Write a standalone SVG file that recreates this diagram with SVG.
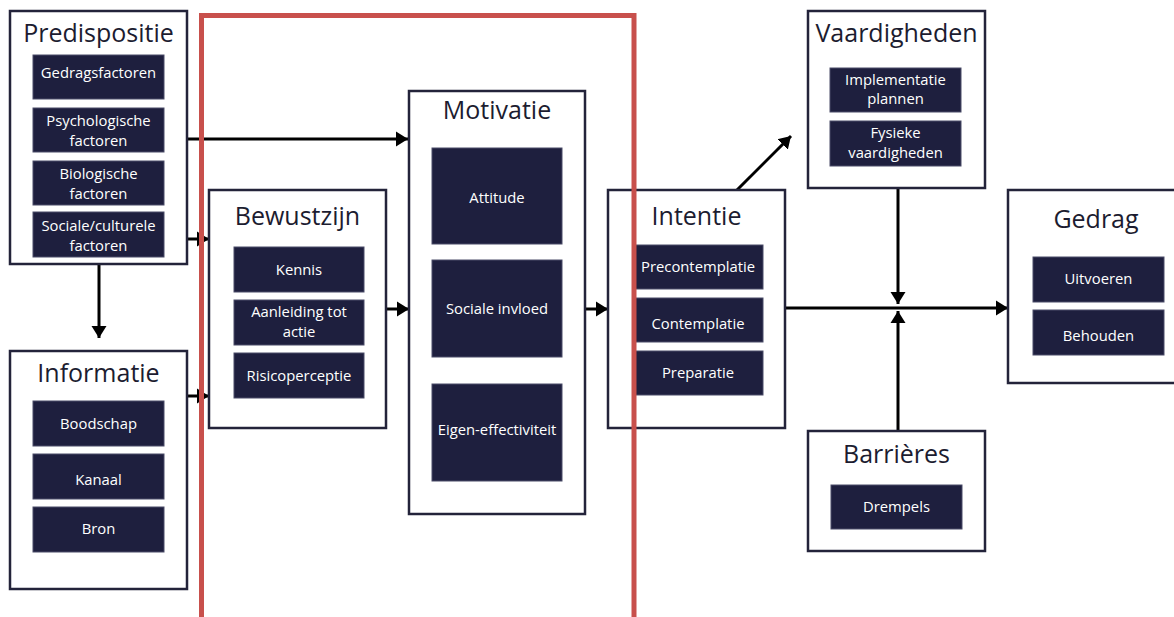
<svg xmlns="http://www.w3.org/2000/svg" width="1174" height="617" viewBox="0 0 1174 617">
  <style>
    .box { fill: #ffffff; stroke: #23233a; stroke-width: 2.5; }
    .item { fill: #1e1f3e; stroke: #4b4c68; stroke-width: 1; }
    .title { font-family: "Open Sans", "Noto Sans", sans-serif; font-size: 25px; fill: #1c1c30; text-anchor: middle; }
    .lbl { font-family: "Open Sans", "Noto Sans", sans-serif; font-size: 14.8px; fill: #ffffff; text-anchor: middle; }
    .conn { stroke: #000000; stroke-width: 3; fill: none; marker-end: url(#arrow); }
    .frame { fill: none; stroke: #c8504c; stroke-width: 5; }
  </style>
  <defs>
    <marker id="arrow" markerUnits="userSpaceOnUse" markerWidth="13" markerHeight="17" refX="12" refY="8.5" orient="auto">
      <path d="M0,1 L12,8.5 L0,16 z" fill="#000000"/>
    </marker>
  </defs>
  <rect width="1174" height="617" fill="#ffffff"/>

  <g id="connectors">
    <line class="conn" x1="187" y1="139" x2="408" y2="139"/>
    <line class="conn" x1="187" y1="239" x2="209" y2="239"/>
    <line class="conn" x1="99" y1="264" x2="99" y2="338"/>
    <line class="conn" x1="187" y1="396" x2="209" y2="396"/>
    <line class="conn" x1="386" y1="309" x2="409" y2="309"/>
    <line class="conn" x1="585" y1="309" x2="608" y2="309"/>
    <line class="conn" x1="737" y1="190" x2="791" y2="136"/>
    <line class="conn" x1="785" y1="308" x2="1008" y2="308"/>
    <line class="conn" x1="898" y1="188" x2="898" y2="304"/>
    <line class="conn" x1="898" y1="431" x2="898" y2="311"/>
  </g>

  <g id="predispositie">
    <rect class="box" x="10" y="11" width="177" height="253"/>
    <text class="title" x="98.5" y="42">Predispositie</text>
    <rect class="item" x="33" y="55" width="131" height="44"/>
    <text class="lbl" x="98.5" y="78">Gedragsfactoren</text>
    <rect class="item" x="33" y="108" width="131" height="44"/>
    <text class="lbl" x="98.5" y="126">Psychologische</text>
    <text class="lbl" x="98.5" y="146">factoren</text>
    <rect class="item" x="33" y="161" width="131" height="44"/>
    <text class="lbl" x="98.5" y="179">Biologische</text>
    <text class="lbl" x="98.5" y="199">factoren</text>
    <rect class="item" x="33" y="212" width="131" height="45"/>
    <text class="lbl" x="98.5" y="231">Sociale/culturele</text>
    <text class="lbl" x="98.5" y="251">factoren</text>
  </g>

  <g id="informatie">
    <rect class="box" x="10" y="351" width="177" height="238"/>
    <text class="title" x="98.5" y="382">Informatie</text>
    <rect class="item" x="33" y="401" width="131" height="45"/>
    <text class="lbl" x="98.5" y="429">Boodschap</text>
    <rect class="item" x="33" y="454" width="131" height="45"/>
    <text class="lbl" x="98.5" y="485">Kanaal</text>
    <rect class="item" x="33" y="507" width="131" height="45"/>
    <text class="lbl" x="98.5" y="534">Bron</text>
  </g>

  <g id="bewustzijn">
    <rect class="box" x="209" y="190" width="177" height="238"/>
    <text class="title" x="297.5" y="225">Bewustzijn</text>
    <rect class="item" x="234" y="247" width="130" height="45"/>
    <text class="lbl" x="299" y="275">Kennis</text>
    <rect class="item" x="234" y="300" width="130" height="45"/>
    <text class="lbl" x="299" y="317">Aanleiding tot</text>
    <text class="lbl" x="299" y="337">actie</text>
    <rect class="item" x="234" y="353" width="130" height="45"/>
    <text class="lbl" x="299" y="381">Risicoperceptie</text>
  </g>

  <g id="motivatie">
    <rect class="box" x="409" y="91" width="176" height="423"/>
    <text class="title" x="497" y="119">Motivatie</text>
    <rect class="item" x="432" y="148" width="130" height="96"/>
    <text class="lbl" x="497" y="203">Attitude</text>
    <rect class="item" x="432" y="260" width="130" height="97"/>
    <text class="lbl" x="497" y="314">Sociale invloed</text>
    <rect class="item" x="432" y="384" width="130" height="97"/>
    <text class="lbl" x="497" y="435">Eigen-effectiviteit</text>
  </g>

  <g id="intentie">
    <rect class="box" x="608" y="190" width="177" height="238"/>
    <text class="title" x="696.5" y="225">Intentie</text>
    <rect class="item" x="633" y="245" width="130" height="44"/>
    <text class="lbl" x="698" y="272">Precontemplatie</text>
    <rect class="item" x="633" y="298" width="130" height="44"/>
    <text class="lbl" x="698" y="329">Contemplatie</text>
    <rect class="item" x="633" y="351" width="130" height="44"/>
    <text class="lbl" x="698" y="378">Preparatie</text>
  </g>

  <g id="vaardigheden">
    <rect class="box" x="808" y="11" width="177" height="177"/>
    <text class="title" x="896.5" y="42">Vaardigheden</text>
    <rect class="item" x="830" y="68" width="131" height="44"/>
    <text class="lbl" x="895.5" y="85">Implementatie</text>
    <text class="lbl" x="895.5" y="104">plannen</text>
    <rect class="item" x="830" y="121" width="131" height="45"/>
    <text class="lbl" x="895.5" y="138">Fysieke</text>
    <text class="lbl" x="895.5" y="158">vaardigheden</text>
  </g>

  <g id="gedrag">
    <rect class="box" x="1008" y="190" width="180" height="193"/>
    <text class="title" x="1096" y="228">Gedrag</text>
    <rect class="item" x="1033" y="257" width="131" height="45"/>
    <text class="lbl" x="1098.5" y="284">Uitvoeren</text>
    <rect class="item" x="1033" y="310" width="131" height="45"/>
    <text class="lbl" x="1098.5" y="341">Behouden</text>
  </g>

  <g id="barrieres">
    <rect class="box" x="808" y="431" width="177" height="120"/>
    <text class="title" x="896.5" y="463">Barrières</text>
    <rect class="item" x="831" y="485" width="131" height="44"/>
    <text class="lbl" x="896.5" y="512">Drempels</text>
  </g>

  <g id="highlight">
    <polyline class="frame" points="201.5,620 201.5,15.5 634,15.5 634,620"/>
  </g>
</svg>
